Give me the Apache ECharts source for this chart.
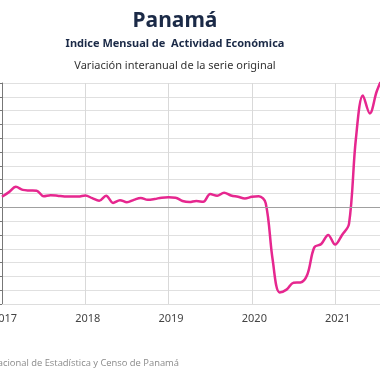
<!DOCTYPE html>
<html>
<head>
<meta charset="utf-8">
<script src="https://cdn.jsdelivr.net/npm/echarts@6/dist/echarts.min.js"></script>
<style>
html,body{margin:0;padding:0;overflow:hidden;background:#fff;width:380px;height:380px;}
#chart{position:absolute;left:0;top:0;width:400px;height:380px;}
</style>
</head>
<body>
<div id="chart"></div>
<script>
// Monthly categories 2017-01 .. 2021-08
const years = [2017, 2018, 2019, 2020, 2021];
const months = [];
years.forEach(function (y) {
  for (let m = 1; m <= 12; m++) {
    if (y === 2021 && m > 8) break;
    months.push(y + '-' + (m < 10 ? '0' + m : m));
  }
});
// Variación interanual (%)
const values2017 = [3.8, 5.5, 7.4, 6.3, 6.1, 6.0, 4.0, 4.4, 4.2, 3.9, 3.9, 3.9];
const values2018 = [4.3, 3.3, 2.4, 4.2, 1.6, 2.6, 1.8, 2.7, 3.4, 2.7, 3.0, 3.5];
const values2019 = [3.6, 3.5, 2.3, 1.9, 2.3, 2.0, 4.8, 4.2, 5.3, 4.3, 3.8, 3.2];
const values2020 = [3.8, 4.0, 1.5, -19.0, -30.8, -29.8, -27.3, -27.2, -24.3, -14.5, -13.3, -10.0];
const values2021 = [-13.5, -10.0, -6.0, 25.0, 40.5, 34.0, 42.0, 48.0];
const values = [].concat(values2017, values2018, values2019, values2020, values2021);

const yMin = -35, yMax = 45, yStep = 5;

const titleText = 'Panamá';
const subtitleText = 'Indice Mensual de  Actividad Económica';
const subtitle2Text = 'Variación interanual de la serie original';
const sourceText = 'Fuente: Instituto Nacional de Estadística y Censo de Panamá';

const chart = echarts.init(document.getElementById('chart'), null, {renderer: 'canvas'});
const isJan = function (i) { return i % 12 === 0; };

chart.setOption({
  animation: false,
  backgroundColor: '#ffffff',
  graphic: [
    {type: 'text', x: 175, y: 11, style: {text: titleText, textAlign: 'center', fill: '#1b2a47', font: 'bold 21px "Noto Sans"'}},
    {type: 'text', x: 175, y: 38, style: {text: subtitleText, textAlign: 'center', fill: '#1b2a47', font: 'bold 11px "Noto Sans"'}},
    {type: 'text', x: 175, y: 60, style: {text: subtitle2Text, textAlign: 'center', fill: '#333333', font: '11px "Noto Sans"'}},
    {type: 'text', x: 179, y: 359, style: {text: sourceText, textAlign: 'right', fill: '#8a8a8a', font: '9.4px "Open Sans"'}}
  ],
  grid: {left: 2, right: 16.3, top: 83, bottom: 76, containLabel: false, outerBoundsMode: 'none'},
  xAxis: {
    type: 'category',
    data: months,
    boundaryGap: false,
    axisLine: {show: true, onZero: false, lineStyle: {color: '#dddddd'}},
    axisTick: {show: false},
    axisLabel: {
      interval: function (i) { return isJan(i); },
      formatter: function (v) { return v.slice(0, 4); },
      color: '#444444',
      fontFamily: 'Noto Sans',
      fontSize: 11,
      margin: 9,
      padding: [0, 0, 0, 5]
    },
    splitLine: {show: true, interval: function (i) { return isJan(i); }, lineStyle: {color: '#d9d9d9', width: 1}}
  },
  yAxis: {
    type: 'value',
    min: yMin,
    max: yMax,
    interval: yStep,
    axisLine: {show: true, lineStyle: {color: '#777777'}},
    axisTick: {show: true, length: 4, lineStyle: {color: '#777777'}},
    axisLabel: {show: false},
    splitLine: {show: true, lineStyle: {color: '#e0e0e0', width: 1}}
  },
  series: [{
    type: 'line',
    data: values,
    smooth: 0.35,
    symbol: 'none',
    clip: true,
    lineStyle: {color: '#e6278f', width: 2.5},
    markLine: {
      silent: true,
      symbol: 'none',
      label: {show: false},
      lineStyle: {color: '#a0a0a0', width: 1.2, type: 'solid'},
      data: [{yAxis: 0}]
    }
  }]
});
</script>
</body>
</html>
